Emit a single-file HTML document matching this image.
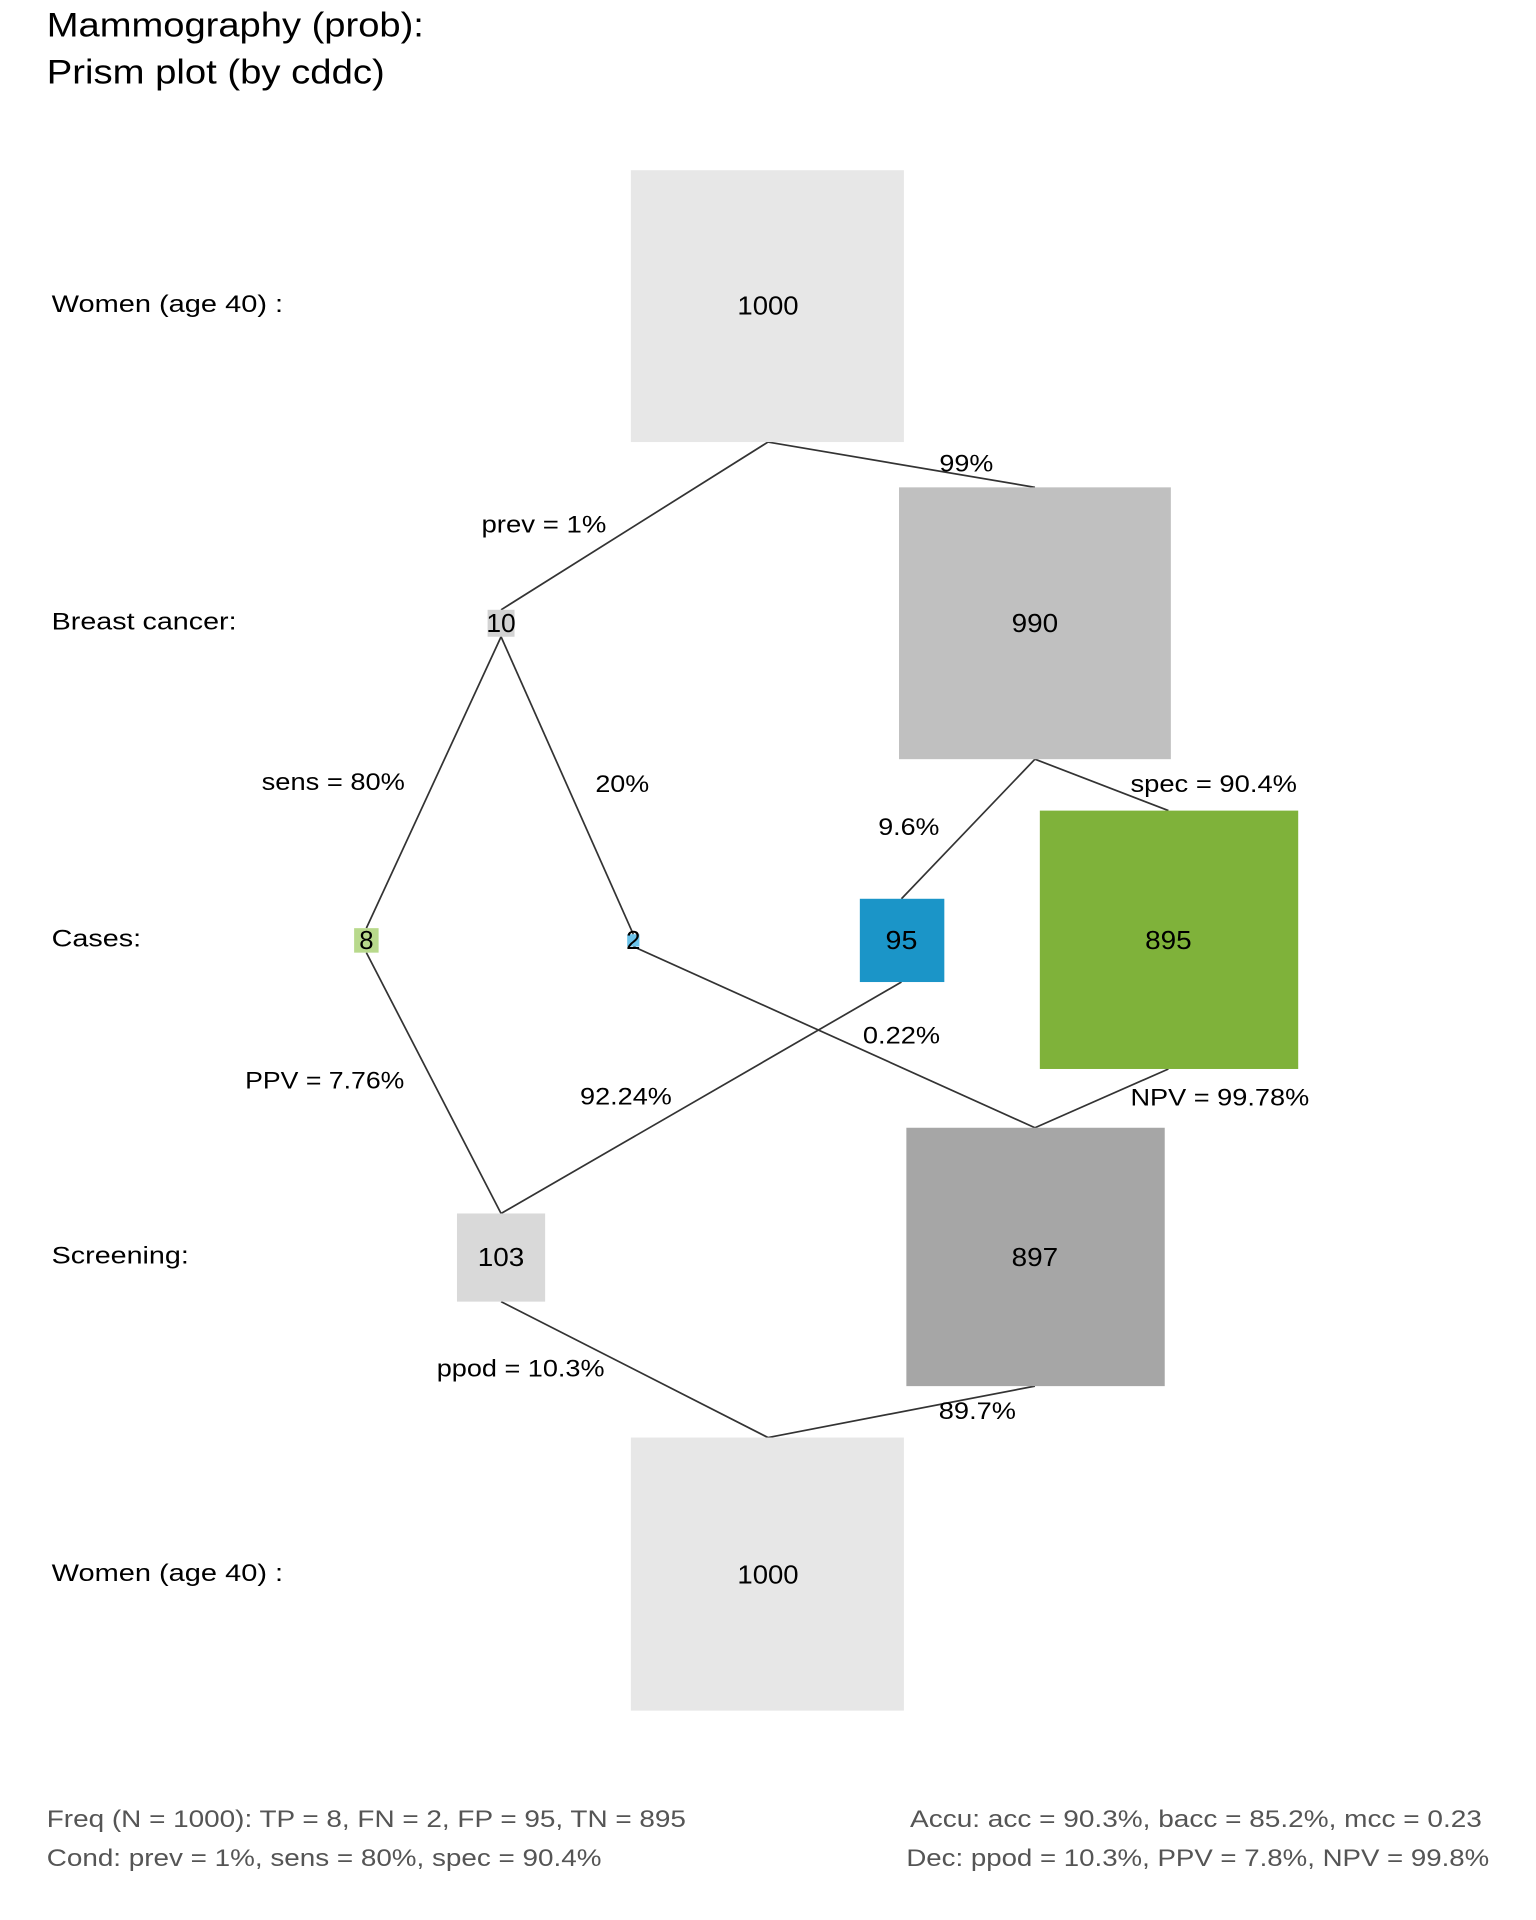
<!DOCTYPE html>
<html><head><meta charset="utf-8"><style>
html,body{margin:0;padding:0;background:#fff;}
svg{display:block;}
text{font-family:"Liberation Sans",sans-serif;}
</style></head><body>
<svg width="1536" height="1920" viewBox="0 0 1254 1568" xmlns="http://www.w3.org/2000/svg">
<rect width="1254" height="1568" fill="#fff"/>
<text x="38" y="30" font-size="28" fill="#000" textLength="308" lengthAdjust="spacingAndGlyphs">Mammography (prob):</text>
<text x="38" y="68" font-size="28" fill="#000" textLength="276" lengthAdjust="spacingAndGlyphs">Prism plot (by cddc)</text>

<g font-size="20" fill="#000">
<text x="42" y="255" textLength="189" lengthAdjust="spacingAndGlyphs">Women (age 40) :</text>
<text x="42" y="514" textLength="151" lengthAdjust="spacingAndGlyphs">Breast cancer:</text>
<text x="42" y="773" textLength="73" lengthAdjust="spacingAndGlyphs">Cases:</text>
<text x="42" y="1032" textLength="112" lengthAdjust="spacingAndGlyphs">Screening:</text>
<text x="42" y="1291" textLength="189" lengthAdjust="spacingAndGlyphs">Women (age 40) :</text>
</g>

<g stroke="#333" stroke-width="1.4" fill="none">
<line x1="627" y1="361" x2="409" y2="498"/>
<line x1="627" y1="361" x2="845" y2="398"/>
<line x1="409" y1="520" x2="299" y2="758"/>
<line x1="409" y1="520" x2="517" y2="763"/>
<line x1="845" y1="620" x2="736" y2="734"/>
<line x1="845" y1="620" x2="954" y2="662"/>
<line x1="299" y1="778" x2="409" y2="991"/>
<line x1="517" y1="773" x2="845" y2="921"/>
<line x1="736" y1="802" x2="409" y2="991"/>
<line x1="954" y1="873" x2="845" y2="921"/>
<line x1="409" y1="1063" x2="627" y2="1174"/>
<line x1="845" y1="1132" x2="627" y2="1174"/>
</g>

<rect x="515" y="139" width="223" height="222" fill="#e7e7e7"/>
<rect x="734" y="398" width="222" height="222" fill="#c0c0c0"/>
<rect x="398" y="498" width="22" height="22" fill="#d3d3d3"/>
<rect x="289" y="758" width="20" height="20" fill="#b8d98c"/>
<rect x="512" y="763" width="10" height="10" fill="#6bc3ea"/>
<rect x="702" y="734" width="69" height="68" fill="#1b95c8"/>
<rect x="849" y="662" width="211" height="211" fill="#7fb23a"/>
<rect x="373" y="991" width="72" height="72" fill="#d9d9d9"/>
<rect x="740" y="921" width="211" height="211" fill="#a6a6a6"/>
<rect x="515" y="1174" width="223" height="223" fill="#e7e7e7"/>

<g font-size="21" fill="#000" text-anchor="middle">
<text x="627" y="257" textLength="50" lengthAdjust="spacingAndGlyphs">1000</text>
<text x="845" y="516" textLength="38" lengthAdjust="spacingAndGlyphs">990</text>
<text x="409" y="516" textLength="24" lengthAdjust="spacingAndGlyphs">10</text>
<text x="299" y="775">8</text>
<text x="517" y="775">2</text>
<text x="736" y="775" textLength="26" lengthAdjust="spacingAndGlyphs">95</text>
<text x="954" y="775" textLength="38" lengthAdjust="spacingAndGlyphs">895</text>
<text x="409" y="1034" textLength="38" lengthAdjust="spacingAndGlyphs">103</text>
<text x="845" y="1034" textLength="38" lengthAdjust="spacingAndGlyphs">897</text>
<text x="627" y="1293" textLength="50" lengthAdjust="spacingAndGlyphs">1000</text>
</g>
<g font-size="20" fill="#000" text-anchor="middle">
<text x="789" y="385" textLength="44" lengthAdjust="spacingAndGlyphs">99%</text>
<text x="444" y="435" textLength="102" lengthAdjust="spacingAndGlyphs">prev = 1%</text>
<text x="272" y="645" textLength="117" lengthAdjust="spacingAndGlyphs">sens = 80%</text>
<text x="508" y="647" textLength="44" lengthAdjust="spacingAndGlyphs">20%</text>
<text x="742" y="682" textLength="50" lengthAdjust="spacingAndGlyphs">9.6%</text>
<text x="991" y="647" textLength="136" lengthAdjust="spacingAndGlyphs">spec = 90.4%</text>
<text x="736" y="852" textLength="63" lengthAdjust="spacingAndGlyphs">0.22%</text>
<text x="265" y="889" textLength="130" lengthAdjust="spacingAndGlyphs">PPV = 7.76%</text>
<text x="511" y="902" textLength="75" lengthAdjust="spacingAndGlyphs">92.24%</text>
<text x="996" y="903" textLength="146" lengthAdjust="spacingAndGlyphs">NPV = 99.78%</text>
<text x="425" y="1124" textLength="137" lengthAdjust="spacingAndGlyphs">ppod = 10.3%</text>
<text x="798" y="1159" textLength="63" lengthAdjust="spacingAndGlyphs">89.7%</text>
</g>

<g font-size="20" fill="#555">
<text x="38" y="1492" textLength="522" lengthAdjust="spacingAndGlyphs">Freq (N = 1000):  TP = 8, FN = 2, FP = 95, TN = 895</text>
<text x="38" y="1524" textLength="453" lengthAdjust="spacingAndGlyphs">Cond:  prev = 1%, sens = 80%, spec = 90.4%</text>
<text x="743" y="1492" textLength="467" lengthAdjust="spacingAndGlyphs">Accu:  acc = 90.3%, bacc = 85.2%, mcc = 0.23</text>
<text x="740" y="1524" textLength="476" lengthAdjust="spacingAndGlyphs">Dec:  ppod = 10.3%, PPV = 7.8%, NPV = 99.8%</text>
</g>
</svg>
</body></html>
